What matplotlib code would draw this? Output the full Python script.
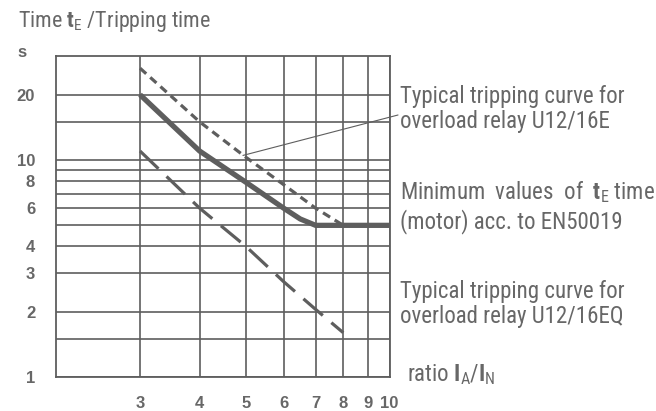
import matplotlib
matplotlib.use("Agg")
import matplotlib.pyplot as plt
from matplotlib.ticker import FixedLocator, NullFormatter

# tripping characteristics (time in s over current ratio IA/IN)
ratio_e = [3, 4, 5, 6, 7, 8]
time_e = [26.5, 15, 10.3, 7.7, 6.0, 5.0]

ratio_min = [3, 4, 5, 6, 6.5, 7, 8, 9, 10]
time_min = [20, 11, 7.9, 6.0, 5.35, 5.0, 5.0, 5.0, 5.0]

ratio_eq = [3, 4, 5, 6, 7, 8]
time_eq = [11, 6, 4.0, 2.75, 2.05, 1.6]

x_ticks = [3, 4, 5, 6, 7, 8, 9, 10]
y_ticks = [1, 2, 3, 4, 6, 8, 10, 20]
y_minor = [1.5, 5, 7, 9, 15]

LINE = '#5e5e5e'
TEXT = '#676767'
NARROW = ['Roboto Condensed', 'Liberation Sans']

plt.rcParams['mathtext.fontset'] = 'custom'
plt.rcParams['mathtext.rm'] = 'Roboto Condensed'
plt.rcParams['mathtext.bf'] = 'Roboto Condensed:bold'

fig = plt.figure(figsize=(6.56, 4.11), dpi=100)
W, H = 656, 411
ax = fig.add_axes([56 / W, 1 - 377 / H, (389.5 - 56) / W, (377 - 56.5) / H])

ax.set_xscale('log')
ax.set_yscale('log')
ax.set_xlim(2, 10)
ax.set_ylim(1, 30)

ax.xaxis.set_major_locator(FixedLocator(x_ticks))
ax.xaxis.set_minor_locator(FixedLocator([]))
ax.set_xticklabels([str(v) for v in x_ticks])
ax.yaxis.set_major_locator(FixedLocator(y_ticks))
ax.yaxis.set_minor_locator(FixedLocator(y_minor))
ax.yaxis.set_minor_formatter(NullFormatter())
ax.set_yticklabels([str(v) for v in y_ticks])

ax.grid(True, which='both', color=LINE, lw=1.2)
ax.set_axisbelow(True)
ax.tick_params(which='both', length=0, colors=TEXT, labelsize=12)
ax.tick_params(axis='x', pad=14)
ax.tick_params(axis='y', pad=15)
for lab in ax.get_xticklabels() + ax.get_yticklabels():
    lab.set_fontweight('bold')
    lab.set_family('Liberation Sans')
for sp in ax.spines.values():
    sp.set_color(LINE)
    sp.set_linewidth(1.3)

ax.plot(ratio_min, time_min, color=LINE, lw=3.8, solid_capstyle='butt', zorder=3)
ax.plot(ratio_e, time_e, color=LINE, lw=2.3, dashes=(2.6, 1.7),
        dash_capstyle='butt', zorder=3)
ax.plot(ratio_eq, time_eq, color=LINE, lw=2.3, dashes=(8, 3.5),
        dash_capstyle='butt', zorder=3)

# leader from the U12/16E curve to its label
ax.annotate('', xy=(4.93, 10.5), xytext=(398 / W, 1 - 115 / H),
            textcoords='figure fraction',
            arrowprops=dict(arrowstyle='-', color=LINE, lw=0.8,
                            shrinkA=0, shrinkB=0))

fs = 16.5
fig.text(18 / W, 1 - 21 / H, r'Time $\mathbf{t}_\mathrm{E}$ /Tripping time',
         family=NARROW, fontsize=15.8, color=TEXT, va='center')
fig.text(22 / W, 1 - 52 / H, 's', family='Liberation Sans', fontweight='bold',
         fontsize=12, color=TEXT, ha='center', va='center')

fig.text(400 / W, 1 - 109 / H, 'Typical tripping curve for\noverload relay U12/16E',
         family=NARROW, fontsize=fs, color=TEXT, va='center', linespacing=1.15)
fig.text(400 / W, 1 - 192 / H, r'Minimum  values  of  $\mathbf{t}_\mathrm{E}$ time',
         family=NARROW, fontsize=fs, color=TEXT, va='center')
fig.text(400 / W, 1 - 222 / H, '(motor) acc. to EN50019',
         family=NARROW, fontsize=fs, color=TEXT, va='center')
fig.text(400 / W, 1 - 304 / H, 'Typical tripping curve for\noverload relay U12/16EQ',
         family=NARROW, fontsize=fs, color=TEXT, va='center', linespacing=1.15)
fig.text(407 / W, 1 - 375 / H, r'ratio $\mathbf{I}_\mathrm{A}$/$\mathbf{I}_\mathrm{N}$',
         family=NARROW, fontsize=fs, color=TEXT, va='center')

fig.savefig('out.png', dpi=100)
